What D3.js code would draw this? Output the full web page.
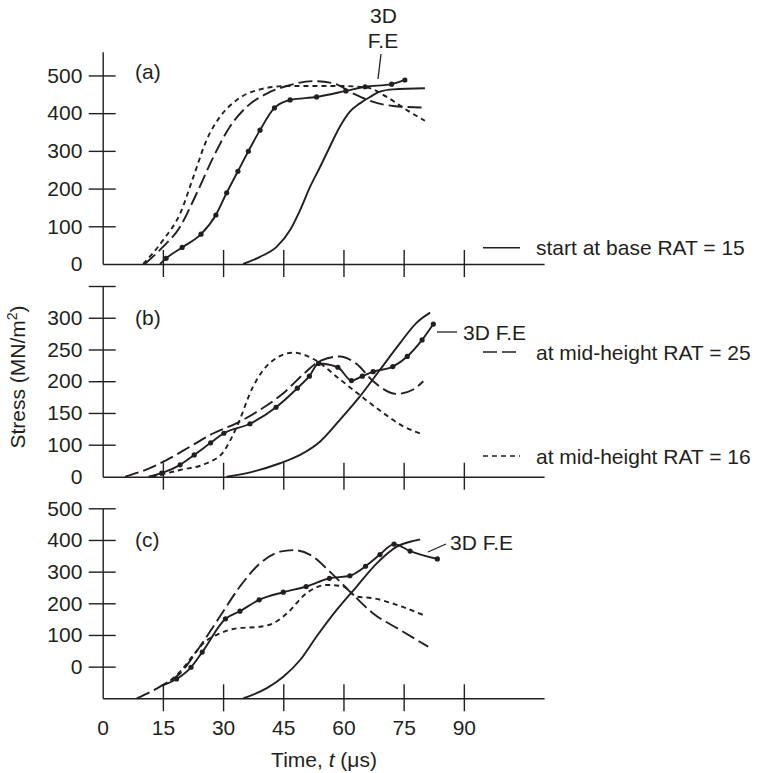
<!DOCTYPE html>
<html><head><meta charset="utf-8">
<script src="https://cdn.jsdelivr.net/npm/d3@7"></script>
<style>
body{margin:0;background:#fff}
text{font-family:"Liberation Sans",Arial,Helvetica,sans-serif;fill:#231f20}
</style>
</head><body>
<svg id="chart" width="759" height="773"></svg>
<script>
// ---------- data (time in µs, stress in MN/m²) ----------
const xTickValues = [0, 15, 30, 45, 60, 75, 90];
const xTickLabels = ["0", "15", "30", "45", "60", "75", "90"];

const aTickValues = [0, 100, 200, 300, 400, 500];
const aTickLabels = ["0", "100", "200", "300", "400", "500"];
const bTickValues = [0, 100, 150, 200, 250, 300, 350];
const bTickLabels = ["0", "100", "150", "200", "250", "300", ""];
const cTickValues = [0, 100, 200, 300, 400, 500];
const cTickLabels = ["0", "100", "200", "300", "400", "500"];

const panelLabels = ["(a)", "(b)", "(c)"];
const seriesNames = ["start at base RAT = 15", "at mid-height RAT = 25", "at mid-height RAT = 16", "3D F.E"];

// Panel (a)
const aBase15 = [[35,0],[39.2,19],[43.4,46],[46.7,90],[49.2,143],[51.7,205],[54.2,258],[56.6,311],[59.1,364],[61.6,404],[64.1,426],[66.6,443],[69.1,457],[72.4,463],[80.3,466]];
const aMid25 = [[10.5,0],[14.7,42],[19.3,99],[23.4,187],[27.6,284],[31.7,364],[35.9,417],[40.9,452],[45.9,472],[52.5,485],[57.5,479],[62.5,452],[67.4,430],[72.4,419],[79.9,415]];
const aMid16 = [[10.1,0],[15.1,64],[19.3,134],[22.6,231],[25.9,329],[29.2,390],[33.4,435],[39.2,463],[45.9,472],[59.1,472],[65.8,468],[70.8,443],[75.8,408],[80.3,380]];
const aFE = [[14.3,0],[15.8,15],[19.8,44],[24.5,79],[28.2,130],[30.9,189],[33.7,246],[36.3,299],[39.2,355],[42.8,414],[46.7,435],[53.3,443],[60.6,459],[65.4,470],[72.0,477],[75.3,488]];

// Panel (b)
const bBase15 = [[30.9,0],[37.5,16],[44.2,42],[49.2,68],[54.2,105],[59.1,139],[64.1,176],[69.1,218],[74.1,260],[78.2,292],[81.6,308]];
const bMid25 = [[5.6,0],[11.0,23],[15.9,52],[21.8,94],[27.6,118],[33.4,134],[39.2,155],[45.0,181],[50.0,211],[54.2,232],[59.1,239],[63.3,227],[67.4,200],[73.3,180],[77.4,187],[79.9,200]];
const bMid16 = [[12.2,0],[19.3,21],[25.9,42],[30.1,78],[33.4,128],[37.5,192],[41.7,229],[47.5,245],[52.5,235],[59.1,203],[64.9,174],[69.9,150],[74.9,129],[79.9,116]];
const bFE = [[11.4,0],[14.7,11],[19.3,37],[22.8,68],[26.9,103],[30.2,118],[36.7,133],[43.2,159],[48.5,189],[51.5,208],[53.8,228],[58.6,222],[62.0,201],[64.7,208],[67.4,215],[72.3,223],[75.9,239],[79.6,265],[82.4,290]];

// Panel (c)
const cBase15 = [[35.0,-100],[40.9,-68],[45.0,-32],[49.2,21],[53.3,95],[58.3,179],[63.3,253],[68.3,326],[73.3,379],[77.4,397],[79.1,402]];
const cMid25 = [[8.5,-100],[14.3,-63],[19.3,-21],[24.2,63],[29.2,158],[34.2,253],[39.2,326],[44.2,363],[47.5,368],[51.7,353],[56.6,300],[61.6,237],[67.4,168],[74.1,116],[81.1,63]];
const cMid16 = [[15.1,-58],[19.3,-16],[22.6,37],[25.1,74],[29.2,105],[33.4,121],[39.2,126],[42.5,137],[45.9,168],[50.8,232],[55.8,258],[60.0,253],[63.3,221],[67.4,216],[73.3,195],[79.9,163]];
const cFE = [[14.7,-60],[18.4,-39],[22.0,-2],[24.8,46],[30.6,151],[34.2,175],[39.0,211],[45.0,235],[50.7,253],[56.5,279],[61.6,287],[65.5,317],[69.1,354],[72.6,387],[76.6,365],[83.4,340]];

// ---------- drawing ----------
const ink = "#231f20";
const FS = 21;
const svg = d3.select("#chart");
const x = d3.scaleLinear().domain([0, 110]).range([102.7, 544.1]);

const styles = [
  {dash: null, dots: false},
  {dash: "14,5", dots: false},
  {dash: "5,4", dots: false},
  {dash: null, dots: true}
];

const panels = [
  {y: d3.scaleLinear().domain([0, 563]).range([264, 51.7]), tv: aTickValues, tl: aTickLabels, series: [aBase15, aMid25, aMid16, aFE], lab: [135, 79], xLabels: false},
  {y: d3.scaleLinear().domain([0, 100, 350]).range([476.7, 444.7, 286]), tv: bTickValues, tl: bTickLabels, series: [bBase15, bMid25, bMid16, bFE], lab: [135, 325], xLabels: false},
  {y: d3.scaleLinear().domain([-100, 500]).range([698.3, 508.3]), tv: cTickValues, tl: cTickLabels, series: [cBase15, cMid25, cMid16, cFE], lab: [135, 547], xLabels: true}
];

panels.forEach((p, pi) => {
  const y = p.y;
  const dom = y.domain();
  const ymin = dom[0];
  const baseY = y(ymin);
  const g = svg.append("g");

  // Y axis
  const ya = g.append("g").attr("transform", `translate(${x(0)},0)`)
    .call(d3.axisLeft(y).tickValues(p.tv).tickFormat((d, i) => p.tl[i]).tickSize(0).tickSizeOuter(0).tickPadding(20));
  ya.attr("font-size", FS).attr("font-family", null);
  ya.select(".domain").attr("stroke", ink).attr("stroke-width", 1.4);
  ya.selectAll(".tick text").attr("fill", ink).attr("x", -20.3);
  ya.selectAll(".tick").each(function(d) {
    if (d !== ymin) d3.select(this).append("line").attr("x1", -14).attr("x2", 13).attr("stroke", ink).attr("stroke-width", 1.4);
  });

  // X axis
  const xa = g.append("g").attr("transform", `translate(0,${baseY})`)
    .call(d3.axisBottom(x).tickValues(xTickValues).tickFormat((d, i) => p.xLabels ? xTickLabels[i] : "").tickSize(0).tickSizeOuter(0));
  xa.attr("font-size", FS).attr("font-family", null);
  xa.select(".domain").attr("stroke", ink).attr("stroke-width", 1.4);
  xa.selectAll(".tick text").attr("fill", ink).attr("dy", null).attr("y", 36.7);
  xa.selectAll(".tick").each(function(d) {
    if (d !== 0) d3.select(this).append("line").attr("y1", -14).attr("y2", 13).attr("stroke", ink).attr("stroke-width", 1.4);
  });

  // Curves
  const line = d3.line().x(d => x(d[0])).y(d => y(d[1])).curve(d3.curveMonotoneX);
  p.series.forEach((s, si) => {
    const st = styles[si];
    g.append("path").attr("d", line(s)).attr("fill", "none").attr("stroke", ink)
      .attr("stroke-width", 1.9).attr("stroke-dasharray", st.dash);
    if (st.dots) {
      g.selectAll(null).data(s.slice(1)).enter().append("circle")
        .attr("cx", d => x(d[0])).attr("cy", d => y(d[1])).attr("r", 2.6).attr("fill", ink);
    }
  });

  // Panel label
  g.append("text").attr("x", p.lab[0]).attr("y", p.lab[1]).attr("font-size", FS).text(panelLabels[pi]);
});

// Legend entries
const legendY = [247.7, 352, 456];
legendY.forEach((ly, i) => {
  svg.append("line").attr("x1", 483).attr("x2", 520).attr("y1", ly).attr("y2", ly)
    .attr("stroke", ink).attr("stroke-width", 1.5).attr("stroke-dasharray", styles[i].dash);
  svg.append("text").attr("x", 536).attr("y", ly + 7.5).attr("font-size", FS).text(seriesNames[i]);
});

// 3D F.E annotations
svg.append("text").attr("x", 383.5).attr("y", 23).attr("text-anchor", "middle").attr("font-size", FS).text("3D");
svg.append("text").attr("x", 383).attr("y", 48).attr("text-anchor", "middle").attr("font-size", FS).text("F.E");
svg.append("line").attr("x1", 381).attr("y1", 54).attr("x2", 378).attr("y2", 79).attr("stroke", ink).attr("stroke-width", 1.3);

svg.append("line").attr("x1", 437).attr("y1", 332).attr("x2", 457).attr("y2", 332).attr("stroke", ink).attr("stroke-width", 1.3);
svg.append("text").attr("x", 463).attr("y", 340).attr("font-size", FS).text(seriesNames[3]);

svg.append("line").attr("x1", 428).attr("y1", 552).attr("x2", 446).attr("y2", 544).attr("stroke", ink).attr("stroke-width", 1.3);
svg.append("text").attr("x", 450).attr("y", 550).attr("font-size", FS).text(seriesNames[3]);

// Axis titles
const xt = svg.append("text").attr("x", 324).attr("y", 766.5).attr("text-anchor", "middle").attr("font-size", FS);
xt.append("tspan").text("Time, ");
xt.append("tspan").attr("font-style", "italic").text("t");
xt.append("tspan").text(" (\u03bcs)");

const yt = svg.append("text").attr("transform", "translate(25,377) rotate(-90)").attr("text-anchor", "middle").attr("font-size", FS);
yt.append("tspan").text("Stress (MN/m");
yt.append("tspan").attr("font-size", 14).attr("dy", -8).text("2");
yt.append("tspan").attr("dy", 8).text(")");
</script>
</body></html>
